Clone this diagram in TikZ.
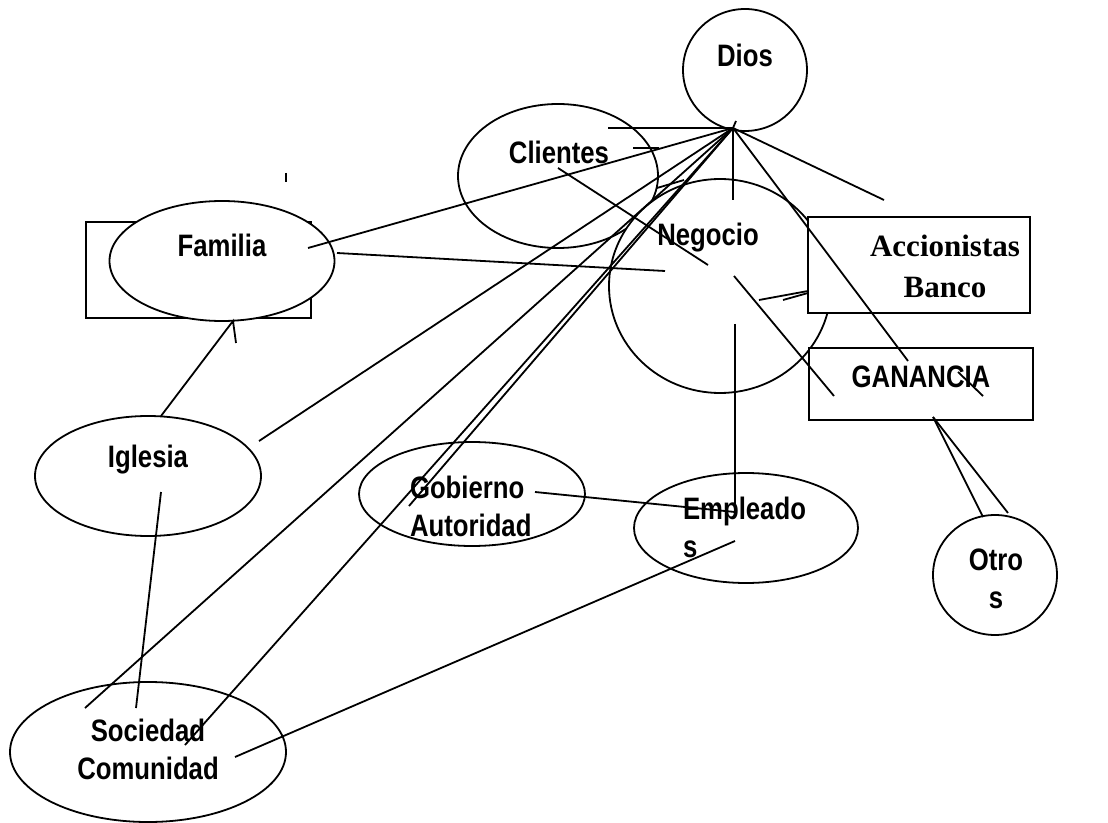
\documentclass[tikz,border=0pt]{standalone}
\usepackage{fontspec}
\setmainfont{Liberation Sans}[FakeStretch=0.83]
\newfontfamily\timesfont{Liberation Serif}
\usetikzlibrary{shapes.geometric}

\begin{document}
\begin{tikzpicture}[x=0.5pt, y=-0.5pt, line width=0.9pt,
    every node/.style={inner sep=0pt, outer sep=0pt},
    bubble/.style={ellipse, draw, fill=white},
    box/.style={rectangle, draw, fill=white},
    txt/.style={font=\fontsize{15.5}{19}\selectfont\bfseries, align=center},
    serif/.style={font=\fontsize{15.5}{20.5}\selectfont\timesfont\bfseries, align=center}]
  \useasboundingbox (0,0) rectangle (1108,823);

  % shapes
  \node[bubble, minimum width=62pt, minimum height=61pt] (dios) at (745,70) {};
  \node[bubble, minimum width=100pt, minimum height=72pt] (clientes) at (558,176) {};
  \node[bubble, minimum width=111pt, minimum height=107pt] (negocio) at (720,286) {};
  \node[box, minimum width=112.5pt, minimum height=48pt] (familiabox) at (198.5,270) {};
  \node[bubble, minimum width=112.5pt, minimum height=60pt] (familia) at (222,261) {};
  \node[bubble, minimum width=113pt, minimum height=60pt] (iglesia) at (148,476) {};
  \node[bubble, minimum width=138pt, minimum height=70pt] (sociedad) at (148,752) {};
  \node[bubble, minimum width=113pt, minimum height=52pt] (gobierno) at (472,494) {};
  \node[bubble, minimum width=112pt, minimum height=55pt] (empleados) at (746,528) {};
  \node[box, minimum width=111pt, minimum height=48pt] (accionistas) at (919,265) {};
  \node[box, minimum width=112pt, minimum height=36pt] (ganancia) at (921,384) {};
  \node[bubble, minimum width=62pt, minimum height=60pt] (otros) at (995,575) {};

  % texts
  \node[txt] (diosT) at (745,55) {Dios};
  \node[txt] (clientesT) at (559,152) {Clientes};
  \node[txt] (negocioT) at (708,238) {Negocio};
  \node[txt] (familiaT) at (222,245) {Familia};
  \node[txt] (iglesiaT) at (148,460) {Iglesia};
  \node[txt] (sociedadT) at (148,749) {Sociedad\\Comunidad};
  \node[txt, align=left, anchor=west] (gobiernoT) at (410,506) {Gobierno\\Autoridad};
  \node[txt, align=left, anchor=west] (empleadosT) at (683,527) {Empleado\\s};
  \node[serif] (accionistasT) at (945,266) {Accionistas\\Banco};
  \node[txt] (gananciaT) at (921,377) {GANANCIA};
  \node[txt] (otrosT) at (996,579) {Otro\\s};

  % line ends
  \coordinate (hub) at (733,128);
  \coordinate (hubTip) at (736,121);
  \coordinate (cliW) at (608,128);
  \coordinate (famE) at (308,248);
  \coordinate (accN) at (884,200);
  \coordinate (negN) at (733,200);
  \coordinate (ganIn) at (908,361);
  \coordinate (iglE) at (259,441);
  \coordinate (socA) at (85,708);
  \coordinate (socB) at (185,745);
  \coordinate (socC) at (235,757);
  \coordinate (gobIn) at (409,506);
  \coordinate (gobR) at (535,492);
  \coordinate (cliIn) at (558,168);
  \coordinate (negA) at (708,265);
  \coordinate (famR) at (337,253);
  \coordinate (negB) at (665,271);
  \coordinate (negC) at (734,276);
  \coordinate (ganL) at (834,396);
  \coordinate (negD) at (759,300);
  \coordinate (negE) at (783,300);
  \coordinate (accL) at (808,291);
  \coordinate (accM) at (808,293);
  \coordinate (negF) at (735,324);
  \coordinate (empA) at (735,515);
  \coordinate (empB) at (735,512);
  \coordinate (empC) at (735,541);
  \coordinate (iglN) at (161,416);
  \coordinate (iglS) at (161,492);
  \coordinate (famS) at (233,321);
  \coordinate (famT) at (236,343);
  \coordinate (socN) at (136,708);
  \coordinate (ganB) at (933,417);
  \coordinate (otrA) at (983,517);
  \coordinate (otrB) at (1008,513);

  % connectors
  \draw (hub) -- (hubTip);
  \draw (hub) -- (cliW);
  \draw (hub) -- (famE);
  \draw (hub) -- (accN);
  \draw (hub) -- (negN);
  \draw (hub) -- (ganIn);
  \draw (hub) -- (iglE);
  \draw (hub) -- (socA);
  \draw (hub) -- (socB);
  \draw (hub) -- (gobIn);
  \draw (cliIn) -- (negA);
  \draw (famR) -- (negB);
  \draw (negC) -- (ganL);
  \draw (negD) -- (accL);
  \draw (negE) -- (accM);
  \draw (negF) -- (empA);
  \draw (gobR) -- (empB);
  \draw (socC) -- (empC);
  \draw (iglN) -- (famS) -- (famT);
  \draw (iglS) -- (socN);
  \draw (ganB) -- (otrA);
  \draw (ganB) -- (otrB);
  % loose strokes
  \draw (633,148) -- (659,148);
  \draw (657,188) -- (684,180);
  \draw (958,372) -- (983,396);
  \draw (286,173) -- (286,182);
\end{tikzpicture}
\end{document}
